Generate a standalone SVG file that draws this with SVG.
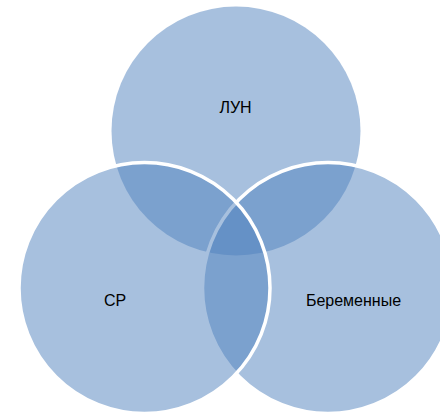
<svg xmlns="http://www.w3.org/2000/svg" width="440" height="414" viewBox="0 0 440 414">
<style>
.c{fill:#4F81BD;fill-opacity:0.5}
.s{stroke:#FFFFFF;stroke-width:3.5}
.t{font-family:"Liberation Sans",Arial,sans-serif;font-size:16px;fill:#000000;text-anchor:middle}
</style>
<rect width="440" height="414" fill="#FFFFFF"/>
<g id="node-lun">
<circle class="c" cx="236" cy="131" r="124.5"/>
</g>
<g id="node-pregnant">
<circle class="c s" cx="328" cy="288" r="125.5"/>
</g>
<g id="node-sr">
<circle class="c s" cx="144.5" cy="288" r="125.5"/>
</g>
<g id="labels">
<text class="t" x="235.5" y="113">ЛУН</text>
<text class="t" x="115" y="306">СР</text>
<text class="t" x="353.5" y="306">Беременные</text>
</g>
</svg>
